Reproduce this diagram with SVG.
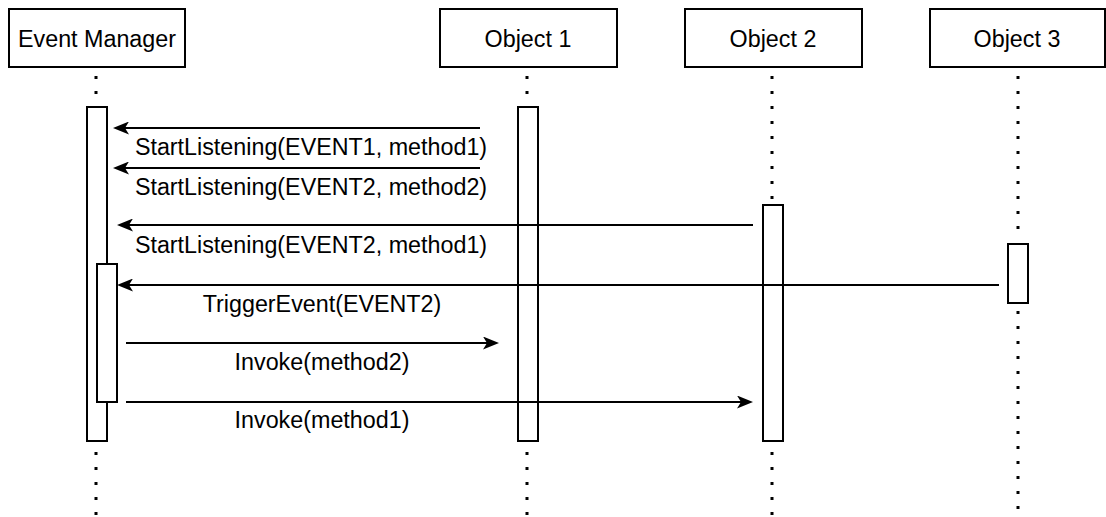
<svg xmlns="http://www.w3.org/2000/svg" width="1106" height="517" viewBox="0 0 1106 517">
  <style>
    .box { fill: #ffffff; stroke: #000000; stroke-width: 2; }
    .act { fill: #ffffff; stroke: #000000; stroke-width: 2; }
    .life { fill: none; stroke: #000000; stroke-width: 3; stroke-dasharray: 3 12; }
    .msg { fill: none; stroke: #000000; stroke-width: 2; marker-end: url(#arrow); }
    text { font-family: "Liberation Sans", Arial, sans-serif; font-size: 23.3px; fill: #000000; text-anchor: middle; }
  </style>
  <defs>
    <marker id="arrow" viewBox="0 0 16 13" markerUnits="userSpaceOnUse" markerWidth="16" markerHeight="13" refX="4" refY="6.5" orient="auto">
      <path d="M0,0 L16,6.5 L0,13 L4,6.5 Z" fill="#000000"/>
    </marker>
  </defs>
  <rect width="1106" height="517" fill="#ffffff"/>

  <g id="event-manager">
    <rect class="box" x="9" y="9" width="176" height="58"/>
    <text x="97" y="47">Event Manager</text>
    <path class="life" d="M96,76 V107"/>
    <path class="life" d="M96,452 V517"/>
    <rect class="act" x="87" y="107" width="20" height="334"/>
    <rect class="act" x="97" y="264" width="20" height="138"/>
  </g>

  <g id="object-1">
    <rect class="box" x="440" y="9" width="177" height="58"/>
    <text x="528" y="47">Object 1</text>
    <path class="life" d="M527,76 V107"/>
    <path class="life" d="M527,452 V517"/>
    <rect class="act" x="518" y="107" width="20" height="334"/>
  </g>

  <g id="object-2">
    <rect class="box" x="685" y="9" width="177" height="58"/>
    <text x="773" y="47">Object 2</text>
    <path class="life" d="M772,76 V205"/>
    <path class="life" d="M772,452 V517"/>
    <rect class="act" x="763" y="205" width="20" height="236"/>
  </g>

  <g id="object-3">
    <rect class="box" x="930" y="9" width="175" height="58"/>
    <text x="1017" y="47">Object 3</text>
    <path class="life" d="M1018,76 V240"/>
    <path class="life" d="M1018,311 V517"/>
    <rect class="act" x="1008" y="244" width="20" height="59"/>
  </g>

  <g id="connectors">
    <path class="msg" d="M480,128 H125"/>
    <text x="311" y="155">StartListening(EVENT1, method1)</text>
    <path class="msg" d="M480,168 H125"/>
    <text x="311" y="195">StartListening(EVENT2, method2)</text>
    <path class="msg" d="M753,225 H129"/>
    <text x="311" y="253">StartListening(EVENT2, method1)</text>
    <path class="msg" d="M999,285 H129"/>
    <text x="322" y="312">TriggerEvent(EVENT2)</text>
    <path class="msg" d="M126,343 H487"/>
    <text x="322" y="370">Invoke(method2)</text>
    <path class="msg" d="M126,402 H741"/>
    <text x="322" y="428">Invoke(method1)</text>
  </g>
</svg>
